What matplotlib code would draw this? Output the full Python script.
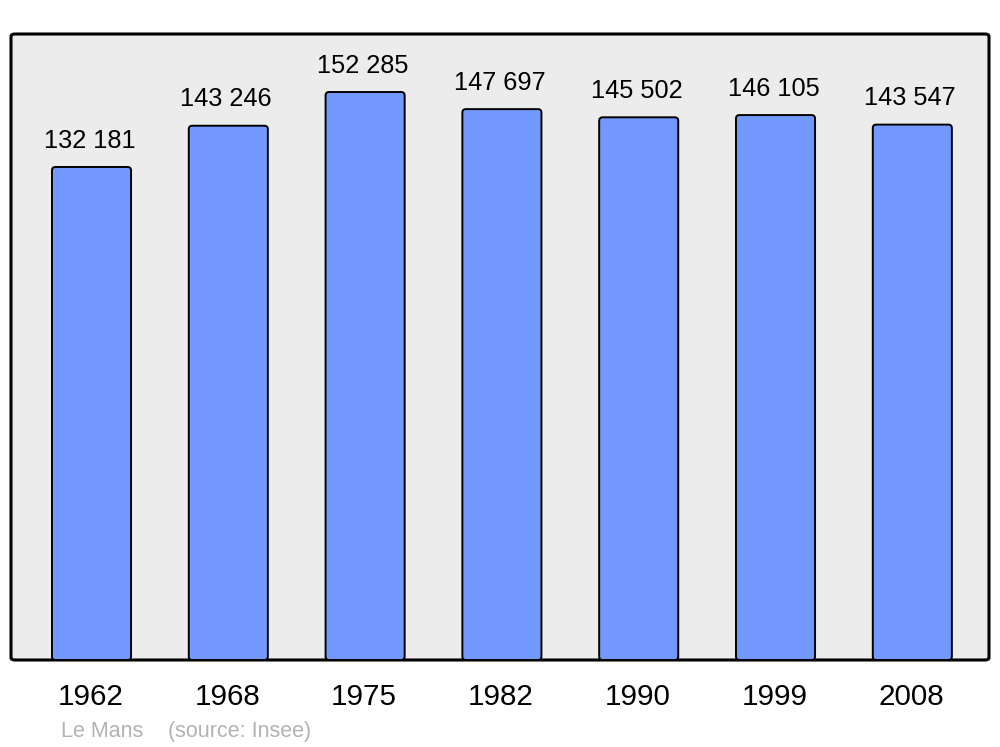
import matplotlib
matplotlib.use("Agg")
import matplotlib.pyplot as plt
from matplotlib.patches import FancyBboxPatch

years = ["1962", "1968", "1975", "1982", "1990", "1999", "2008"]
population = [132181, 143246, 152285, 147697, 145502, 146105, 143547]
value_labels = ["132 181", "143 246", "152 285", "147 697", "145 502", "146 105", "143 547"]
town = "Le Mans"
source = "(source: Insee)"

plt.rcParams['font.family'] = ['Liberation Sans', 'DejaVu Sans']

fig = plt.figure(figsize=(10, 7.47), dpi=100)
ax = fig.add_axes([0.011, 1 - 660/747, 0.978, (660 - 34)/747])
ax.set_xlim(-0.5885, 6.5605)
ax.set_ylim(0, 167840)
ax.axis('off')

bg = FancyBboxPatch((0, 0), 1, 1, boxstyle="round,pad=0,rounding_size=0.004",
                    transform=ax.transAxes, facecolor="#ececec", edgecolor="black",
                    linewidth=2.2, zorder=0, clip_on=False)
ax.add_patch(bg)

x = list(range(len(years)))
bars = ax.bar(x, population, width=0.578, color="#7399ff", edgecolor="black",
              linewidth=1.4, zorder=2)

# replace plain rectangles by rounded ones of the same geometry
px_per_x = 978 / (6.5605 + 0.5885)
data_per_px_y = 167840 / 626
aspect = data_per_px_y * px_per_x
for rect in list(bars):
    bx, by = rect.get_x(), rect.get_y()
    bw, bh = rect.get_width(), rect.get_height()
    rect.set_visible(False)
    rp = FancyBboxPatch((bx, by), bw, bh,
                        boxstyle="round,pad=0,rounding_size=%f" % (3.5 / px_per_x),
                        mutation_aspect=aspect, facecolor="#7399ff",
                        edgecolor="black", linewidth=1.4, zorder=2)
    ax.add_patch(rp)

for xi, v, lab in zip(x, population, value_labels):
    ax.annotate(lab, (xi, v), xytext=(-1.5, 10.3), textcoords="offset points",
                ha="center", va="bottom", fontsize=18.3, color="black")

for xi, yr in zip(x, years):
    ax.annotate(yr, (xi, 0), xytext=(-0.7, -26.5), textcoords="offset points",
                xycoords=("data", "axes fraction"),
                ha="center", va="center", fontsize=21.3, color="black",
                annotation_clip=False)

fig.text(61/1000, 1 - 731.5/747, town, ha="left", va="center", fontsize=15.5, color="#b3b3b3")
fig.text(168/1000, 1 - 731.5/747, source, ha="left", va="center", fontsize=15.5, color="#b3b3b3")

fig.savefig("out.png", dpi=100, facecolor="white")
